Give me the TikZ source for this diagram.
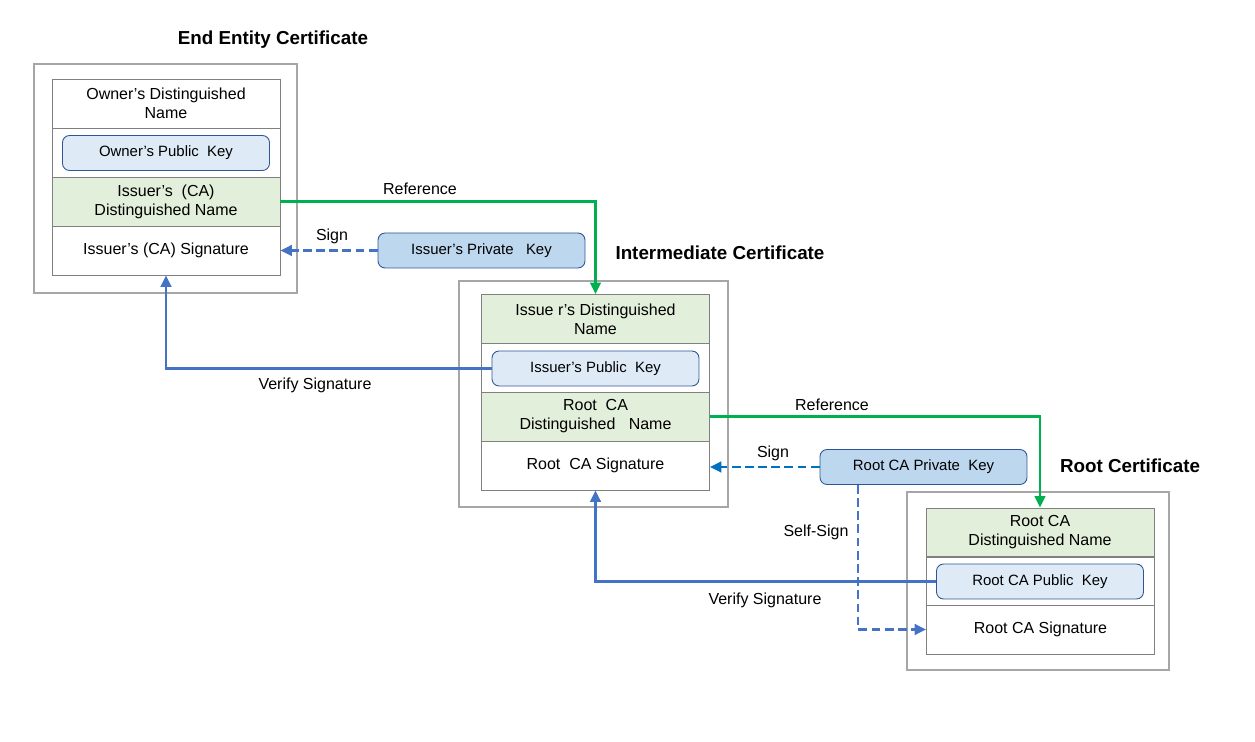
\documentclass[tikz,border=0pt]{standalone}
\usepackage{fontspec}
\setmainfont{Liberation Sans}
\usetikzlibrary{arrows.meta}

\definecolor{dnfill}{HTML}{E2EFDA}
\definecolor{pubfill}{HTML}{DEEBF7}
\definecolor{privfill}{HTML}{BDD7EE}
\definecolor{keyedge}{HTML}{2F5597}
\definecolor{boxgray}{HTML}{A6A6A6}
\definecolor{fieldgray}{HTML}{808080}
\definecolor{refgreen}{HTML}{00B050}
\definecolor{verblue}{HTML}{4472C4}
\definecolor{signblue}{HTML}{0070C0}

\tikzset{
  certbox/.style={draw=boxgray,line width=0.6pt},
  field/.style={draw=fieldgray,line width=0.5pt,minimum width=4.56cm,minimum height=0.98cm,
    align=center,inner sep=0pt,font=\fontsize{9.1}{10.8}\selectfont},
  dnfield/.style={field,fill=dnfill},
  pubkey/.style={draw=keyedge,line width=0.5pt,fill=pubfill,rounded corners=4pt,
    minimum width=4.14cm,minimum height=0.7cm,inner sep=0pt,font=\fontsize{8.5}{10}\selectfont},
  privkey/.style={pubkey,fill=privfill},
  tip/.style={-{Triangle[length=6.5pt,width=6pt]}},
  refline/.style={tip,draw=refgreen,line width=1.3pt},
  verline/.style={tip,draw=verblue,line width=1.5pt},
  signline/.style={tip,draw=verblue,line width=1.5pt,dash pattern=on 5pt off 2.5pt},
  lbl/.style={font=\fontsize{9.1}{10}\selectfont},
  title/.style={font=\bfseries\fontsize{10.7}{12}\selectfont}
}

\begin{document}
\begin{tikzpicture}[x=0.02cm,y=-0.02cm]
\useasboundingbox (0,0) rectangle (1255,742);

% end entity certificate
\node[title] at (273,40) {End Entity Certificate};
\draw[certbox] (34,64) rectangle (297,293);
\node[field] (ee1) at (166,103.5) {Owner’s Distinguished\\Name};
\node[field] (ee2) at (166,152.5) {};
\node[pubkey] (eek) at (166,153) {Owner’s Public\ \ Key};
\node[dnfield] (ee3) at (166,201.5) {Issuer’s\ \ (CA)\\Distinguished Name};
\node[field] (ee4) at (166,250.5) {Issuer’s (CA) Signature};

% intermediate certificate
\node[title] at (720,253) {Intermediate Certificate};
\draw[certbox] (459,281) rectangle (728,507);
\node[dnfield] (im1) at (595.5,319) {Issue r’s Distinguished\\Name};
\node[field] (im2) at (595.5,367.5) {};
\node[pubkey] (imk) at (595.5,368.5) {Issuer’s Public\ \ Key};
\node[dnfield] (im3) at (595.5,416.5) {Root\ \ CA\\Distinguished\ \ \ Name};
\node[field] (im4) at (595.5,465.5) {Root\ \ CA Signature};

% root certificate
\node[title] at (1130,466) {Root Certificate};
\draw[certbox] (907,492) rectangle (1169,670);
\node[dnfield] (rt1) at (1040,532.5) {Root CA\\Distinguished Name};
\node[field] (rt2) at (1040,581) {};
\node[pubkey] (rtk) at (1040,581.5) {Root CA Public\ \ Key};
\node[field] (rt3) at (1040.5,629.5) {Root CA Signature};

% private keys
\node[privkey] (ipk) at (481.5,250.5) {Issuer’s Private\ \ \ Key};
\node[privkey] (rpk) at (923.5,467) {Root CA Private\ \ Key};
\coordinate (ssx) at (858,0);

% connectors
\draw[refline] (ee3.east) -| (im1.north);
\draw[refline] (im3.east) -| (rt1.north);
\draw[signline] (ipk.west) -- (ee4.east);
\draw[signline,draw=signblue] (rpk.west) -- (rpk.west -| im4.east);
\draw[signline] (rpk.south -| ssx) |- (rt3.west);
\draw[verline] (imk.west) -| (ee4.south);
\draw[verline] (rtk.west) -| (im4.south);

% labels
\node[lbl] at (420,189) {Reference};
\node[lbl] at (332,236) {Sign};
\node[lbl] at (315,385) {Verify Signature};
\node[lbl] at (832,405) {Reference};
\node[lbl] at (773,453) {Sign};
\node[lbl] at (816,532) {Self-Sign};
\node[lbl] at (765,600) {Verify Signature};
\end{tikzpicture}
\end{document}
